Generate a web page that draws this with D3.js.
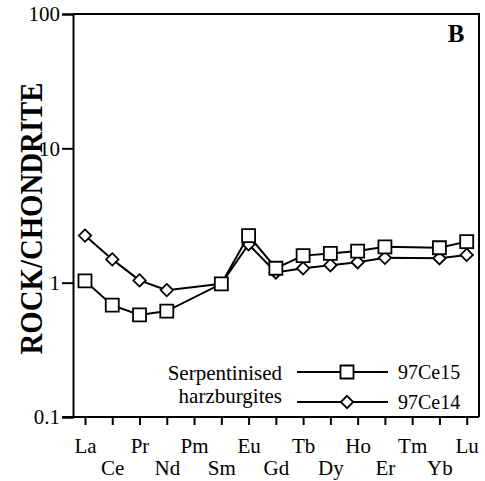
<!DOCTYPE html>
<html>
<head>
<meta charset="utf-8">
<script src="https://cdn.jsdelivr.net/npm/d3@7"></script>
<style>
  html, body { margin: 0; padding: 0; background: #fff; }
  svg { display: block; }
</style>
</head>
<body>
<svg id="chart" width="485" height="481"></svg>
<script>
// ---- data ----
const elements = ["La","Ce","Pr","Nd","Pm","Sm","Eu","Gd","Tb","Dy","Ho","Er","Tm","Yb","Lu"];
const yTicks = [0.1, 1, 10, 100];
const yTickLabels = ["0.1", "1", "10", "100"];
// 97Ce15 (squares); null = not analysed
const s97Ce15 = [1.03, 0.68, 0.575, 0.615, null, 0.98, 2.24, 1.28, 1.59, 1.65, 1.72, 1.85, null, 1.82, 2.02];
// 97Ce14 (diamonds)
const s97Ce14 = [2.24, 1.49, 1.04, 0.88, null, 0.98, 1.93, 1.19, 1.28, 1.35, 1.42, 1.53, null, 1.52, 1.61];
const seriesNames = ["97Ce15", "97Ce14"];
const legendTitle = ["Serpentinised", "harzburgites"];
const panelLabel = "B";
const yTitle = "ROCK/CHONDRITE";

// ---- layout ----
const svg = d3.select("#chart");
const pL = 73, pR = 479, pT = 14, pB = 417;
const serif = "'Liberation Serif', 'Times New Roman', serif";
const boldSerif = "'Liberation Serif', 'Times New Roman', serif";

const x = d3.scalePoint().domain(elements).range([85, 466.7]);
const y = d3.scaleLog().domain([0.1, 100]).range([pB, pT]);

// frame (top and right)
svg.append("path")
  .attr("d", `M${pL},${pT}H${pR}V${pB}`)
  .attr("fill", "none").attr("stroke", "#000").attr("stroke-width", 2);

// y axis
const yAxis = d3.axisLeft(y).tickValues(yTicks)
  .tickFormat((d, i) => yTickLabels[i]).tickSize(11).tickPadding(2);
const gy = svg.append("g").attr("transform", `translate(${pL},0)`).call(yAxis);
gy.select(".domain").attr("stroke-width", 2);
gy.selectAll(".tick line").attr("stroke-width", 2);
gy.selectAll("text").attr("font-family", serif).attr("font-size", 21).attr("fill", "#000")
  .attr("dy", "0.33em");

// x axis
const xAxis = d3.axisBottom(x).tickSize(8).tickPadding(4);
const gx = svg.append("g").attr("transform", `translate(0,${pB})`).call(xAxis);
gx.select(".domain").attr("d", `M${pL - 11},0H${pR}`).attr("stroke-width", 2);
gx.selectAll(".tick line").attr("stroke-width", 2);
gx.selectAll("text")
  .attr("font-family", serif).attr("font-size", 21).attr("fill", "#000")
  .attr("dy", (d, i) => i % 2 === 0 ? "1.15em" : "2.2em");

// y title
svg.append("text")
  .attr("transform", `translate(42,${(pT + pB) / 2 + 3}) rotate(-90)`)
  .attr("text-anchor", "middle")
  .attr("font-family", boldSerif).attr("font-weight", "bold").attr("font-size", 32)
  .attr("textLength", 272).attr("lengthAdjust", "spacingAndGlyphs")
  .text(yTitle);

// panel label
svg.append("text")
  .attr("x", 456).attr("y", 42).attr("text-anchor", "middle")
  .attr("font-family", boldSerif).attr("font-weight", "bold").attr("font-size", 25)
  .text(panelLabel);

const sq = d3.symbol().type(d3.symbolSquare).size(169);
const dia = d3.symbol().type(d3.symbolDiamond2).size(98);

function drawSeries(vals, sym) {
  const pts = elements.map((e, i) => ({ e, v: vals[i] })).filter(d => d.v != null);
  svg.append("path").datum(pts)
    .attr("d", d3.line().x(d => x(d.e)).y(d => y(d.v)))
    .attr("fill", "none").attr("stroke", "#000").attr("stroke-width", 2);
  svg.append("g").selectAll("path").data(pts).join("path")
    .attr("transform", d => `translate(${x(d.e)},${y(d.v)})`)
    .attr("d", sym)
    .attr("fill", "#fff").attr("stroke", "#000").attr("stroke-width", 1.8);
}
drawSeries(s97Ce14, dia);
drawSeries(s97Ce15, sq);

// legend
const lg = svg.append("g");
legendTitle.forEach((t, i) => {
  lg.append("text").attr("x", 282).attr("y", 380 + i * 23)
    .attr("text-anchor", "end").attr("font-family", serif).attr("font-size", 21).text(t);
});
[[sq, 372], [dia, 402]].forEach(([sym, ly], i) => {
  lg.append("line").attr("x1", 297).attr("x2", 388).attr("y1", ly).attr("y2", ly)
    .attr("stroke", "#000").attr("stroke-width", 2);
  lg.append("path").attr("transform", `translate(347,${ly})`).attr("d", sym)
    .attr("fill", "#fff").attr("stroke", "#000").attr("stroke-width", 1.8);
  lg.append("text").attr("x", 398).attr("y", ly + 7)
    .attr("font-family", serif).attr("font-size", 20).text(seriesNames[i]);
});
</script>
</body>
</html>
